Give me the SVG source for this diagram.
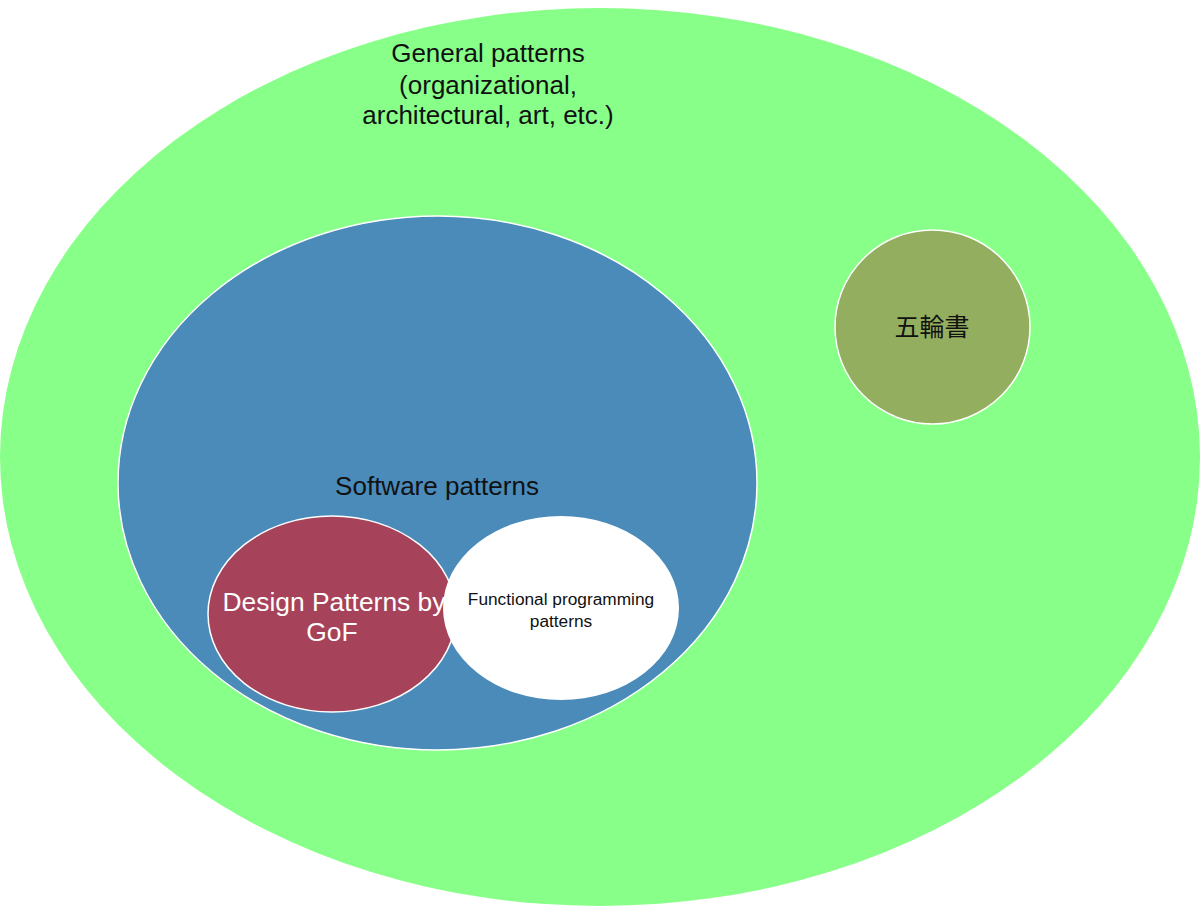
<svg xmlns="http://www.w3.org/2000/svg" width="1200" height="908" viewBox="0 0 1200 908">
<style>
  text { font-family: "Liberation Sans", Arial, sans-serif; text-anchor: middle; }
  .dark { fill: #111111; }
  .light { fill: #ffffff; }
  .node { stroke: #ffffff; stroke-width: 1.5; }
</style>
<rect width="1200" height="908" fill="#ffffff"/>
<g id="general">
  <ellipse cx="600" cy="457" rx="600" ry="449" fill="#88ff88"/>
  <text class="dark" font-size="26" x="488" y="62">General patterns</text>
  <text class="dark" font-size="26" x="488" y="94">(organizational,</text>
  <text class="dark" font-size="26" x="488" y="124">architectural, art, etc.)</text>
</g>
<g id="gorin">
  <ellipse class="node" cx="932.5" cy="327" rx="97.5" ry="97" fill="#92ae5e"/>
  <text class="dark" font-size="25" x="932" y="336" style="font-family:'Liberation Sans','Noto Sans CJK JP',sans-serif">五輪書</text>
</g>
<g id="software">
  <ellipse class="node" cx="437.5" cy="483" rx="319.5" ry="267" fill="#4a8bba"/>
  <text class="dark" font-size="26" x="437" y="495">Software patterns</text>
</g>
<g id="gof">
  <ellipse cx="332" cy="614" rx="124" ry="98" fill="#a6435a" stroke="#ffffff" stroke-width="1.5"/>
  <text class="light" font-size="26.4" x="334" y="611">Design Patterns by</text>
  <text class="light" font-size="26.4" x="332" y="641">GoF</text>
</g>
<g id="functional">
  <ellipse cx="561" cy="608" rx="118" ry="92" fill="#ffffff"/>
  <text class="dark" font-size="17.3" x="561" y="605">Functional programming</text>
  <text class="dark" font-size="17.3" x="561" y="627">patterns</text>
</g>
<g id="connectors"></g>
</svg>
